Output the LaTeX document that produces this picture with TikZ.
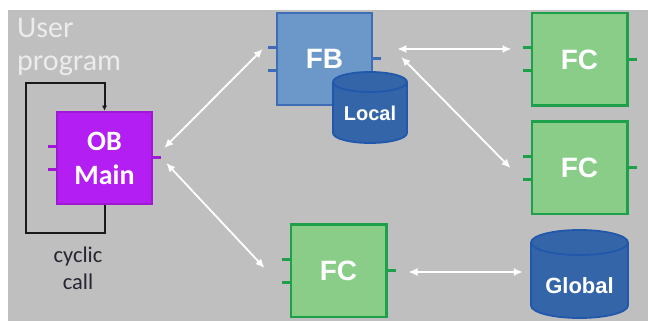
\documentclass[tikz,border=0pt]{standalone}
\usepackage{fontspec}
\setmainfont{Carlito}
\newfontfamily\arialfont{Liberation Sans}
\usetikzlibrary{arrows.meta}
\definecolor{bggray}{HTML}{BFBFBF}
\definecolor{userfg}{HTML}{ECECEC}
\definecolor{obfill}{HTML}{B31EF2}
\definecolor{obline}{HTML}{9E18D6}
\definecolor{fbfill}{HTML}{6B97C9}
\definecolor{fbline}{HTML}{3D6DB5}
\definecolor{fcfill}{HTML}{89CD89}
\definecolor{fcline}{HTML}{1EA04A}
\definecolor{dbfill}{HTML}{3465A9}
\definecolor{dbline}{HTML}{2158AC}
\definecolor{darktext}{HTML}{262633}

\begin{document}
\begin{tikzpicture}[x=1pt,y=1pt, every node/.style={align=center},
 blk/.style={draw,line width=2.5pt,minimum width=95.5pt,minimum height=92.5pt,inner sep=0pt,text=white},
 obblk/.style={blk,fill=obfill,draw=obline,line width=2pt,font=\fontsize{28}{34}\selectfont\bfseries},
 fbblk/.style={blk,fill=fbfill,draw=fbline,line width=2pt,font=\arialfont\fontsize{28}{34}\selectfont\bfseries},
 fcblk/.style={blk,fill=fcfill,draw=fcline,font=\arialfont\fontsize{28}{34}\selectfont\bfseries},
 stub/.style={line width=3pt},
 drum/.style={fill=dbfill,draw=dbline,line width=1.8pt},
 dblabel/.style={text=white,minimum height=40pt,inner sep=0pt},
 link/.style={white,line width=1.8pt,{Latex[length=9pt,width=8pt]}-{Latex[length=9pt,width=8pt]}},
 cycline/.style={draw=black!90,line width=2pt,-{Latex[length=5pt,width=5pt]}}]
\useasboundingbox (0,0) rectangle (648,321);
\fill[bggray] (8,0) rectangle (648,311);

% caption texts
\node[anchor=north west,inner sep=0pt,align=left,text=userfg,
 font=\fontsize{30}{33}\selectfont] (user) at (17,303) {User\\program};
\node[text=darktext,inner sep=0pt,font=\fontsize{22.5}{27}\selectfont] (cyc) at (78,53) {cyclic\\call};

% blocks
\node[obblk] (ob) at (104.5,163) {OB\\Main};
\node[fbblk] (fb) at (324.5,262) {FB};
\node[fcblk] (fca) at (579.5,261.5) {FC};
\node[fcblk] (fcb) at (579.5,153) {FC};
\node[fcblk] (fcc) at (338.5,50) {FC};

\foreach \n/\c in {ob/obline,fb/fbline,fca/fcline,fcb/fcline,fcc/fcline}{
 \draw[stub,\c] ([yshift=11.5pt]\n.west) -- ++(-8,0);
 \draw[stub,\c] ([yshift=-11.5pt]\n.west) -- ++(-8,0);
 \draw[stub,\c] (\n.east) -- ++(8,0);
}

% data blocks
\filldraw[drum] (333,239) -- (333,188) arc[start angle=180,end angle=360,x radius=37pt,y radius=10pt]
 -- (407,239) arc[start angle=0,end angle=180,x radius=37pt,y radius=10pt] -- cycle;
\draw[drum,fill=none] (333,239) arc[start angle=180,end angle=360,x radius=37pt,y radius=10pt];
\node[dblabel,minimum width=74pt,font=\arialfont\fontsize{20}{24}\selectfont\bfseries] (local) at (370,207.5) {Local};

\filldraw[drum] (531,78.5) -- (531,15.5) arc[start angle=180,end angle=360,x radius=48.5pt,y radius=12.5pt]
 -- (628,78.5) arc[start angle=0,end angle=180,x radius=48.5pt,y radius=12.5pt] -- cycle;
\draw[drum,fill=none] (531,78.5) arc[start angle=180,end angle=360,x radius=48.5pt,y radius=12.5pt];
\node[dblabel,minimum width=97pt,font=\arialfont\fontsize{22}{26}\selectfont\bfseries] (global) at (579.5,35.5) {Global};

% cyclic call
\draw[cycline] (ob.south) -- ++(0,-28) -- ++(-78.5,0) |- ([yshift=27.5pt]ob.north) -- (ob.north);

% calls
\draw[link] ([shift={(11,10)}]ob.east) -- ([shift={(-13,10)}]fb.west);
\draw[link] ([shift={(13,-5)}]ob.east) -- ([shift={(-25,3)}]fcc.west);
\draw[link] ([shift={(24,10)}]fb.east) -- ([shift={(-19,10.5)}]fca.west);
\draw[link] ([shift={(28,2)}]fb.east) -- ([shift={(-20,0)}]fcb.west);
\draw[link] ([shift={(21,-1)}]fcc.east) -- ([shift={(-8,13.5)}]global.west);
\end{tikzpicture}
\end{document}
